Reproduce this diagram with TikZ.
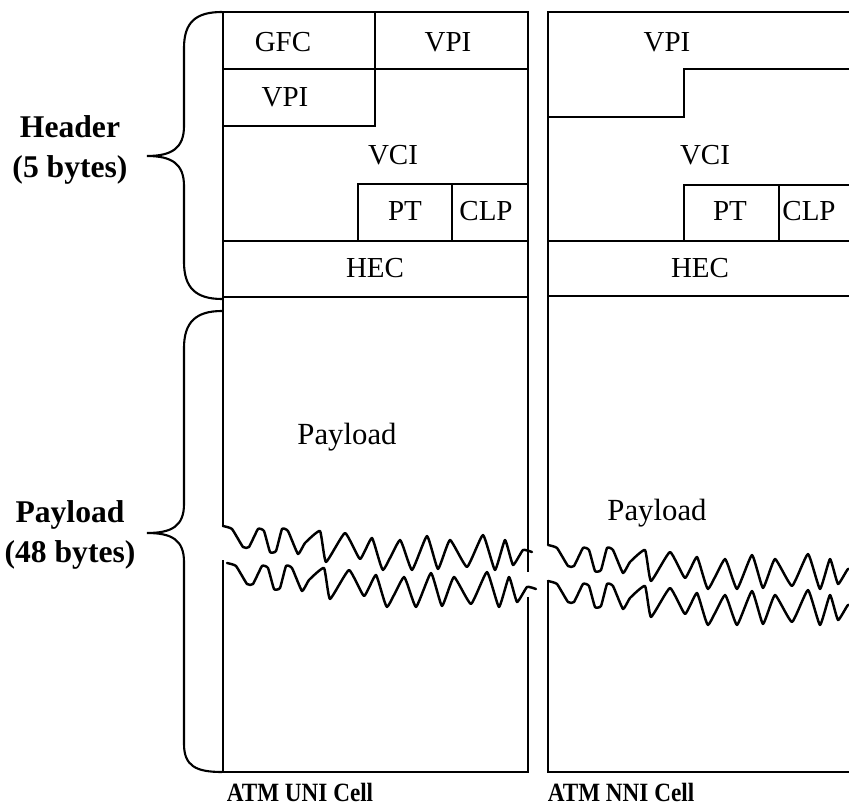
\documentclass[tikz,border=0pt]{standalone}
\usepackage{fontspec}
\setmainfont{Liberation Serif}
\usepackage{tikz}
\usetikzlibrary{positioning, calc}

\begin{document}
\begin{tikzpicture}[
    x=0.02cm, y=-0.02cm,
    field/.style={inner sep=0pt, font=\fontsize{16.5}{19}\selectfont},
    side/.style={inner sep=0pt, align=center, font=\fontsize{18}{22.5}\selectfont\bfseries},
    title/.style={inner sep=0pt, font=\fontsize{15}{17}\selectfont\bfseries},
    cell/.style={line width=1.2pt, line cap=butt},
    wave/.style={line width=1.4pt, line join=round, line cap=round}
]
\useasboundingbox (0,0) rectangle (849,810);
\clip (0,0) rectangle (849,810);

% UNI cell
\draw[cell] (223,527) -- (223,12) -- (528,12) -- (528,572);
\draw[cell] (528,597) -- (528,772) -- (223,772) -- (223,560);
\draw[cell] (223,69) -- (528,69);
\draw[cell] (375,12) -- (375,126) -- (223,126);
\draw[cell] (358,241) -- (358,184) -- (528,184);
\draw[cell] (452,184) -- (452,241);
\draw[cell] (223,241) -- (528,241);
\draw[cell] (223,297) -- (528,297);

\node[field] (gfc) at (283,42) {GFC};
\node[field] (uvpia) at (448,42) {VPI};
\node[field] (uvpib) at (285,97) {VPI};
\node[field] (uvci) at (393,155) {VCI};
\node[field] (upt) at (405,211) {PT};
\node[field] (uclp) at (486,211) {CLP};
\node[field] (uhec) at (375,268) {HEC};
\node[field, font=\fontsize{17.5}{20}\selectfont] (upay) at (347,437) {Payload};

% NNI cell
\draw[cell] (548,545) -- (548,12) -- (860,12);
\draw[cell] (548,580) -- (548,772) -- (860,772);
\draw[cell] (548,117) -- (684,117) -- (684,69) -- (860,69);
\draw[cell] (684,241) -- (684,185) -- (860,185);
\draw[cell] (779,185) -- (779,241);
\draw[cell] (548,241) -- (860,241);
\draw[cell] (548,296) -- (860,296);

\node[field] (nvpi) at (667,42) {VPI};
\node[field] (nvci) at (705,155) {VCI};
\node[field] (npt) at (730,211) {PT};
\node[field] (nclp) at (809,211) {CLP};
\node[field] (nhec) at (700,268) {HEC};
\node[field, font=\fontsize{17.5}{20}\selectfont] (npay) at (657,513) {Payload};

% torn payload
\foreach \dx/\dy in {0/0, 4/37, 325/19, 325/55}
  \draw[wave, shift={(\dx,\dy)}] plot[smooth, tension=0.25] coordinates {
    (223,526) (232,529) (243,547) (249,547) (258,529) (264,531) (270,552)
    (276,551) (282,529) (288,531) (298,554) (305,543) (320,531) (326,562)
    (345,533) (360,559) (372,538) (383,570) (400,540) (412,570) (427,536)
    (438,569) (450,540) (467,567) (483,535) (495,570) (505,540) (513,565)
    (523,550) (532,552)};

% braces
\draw[cell] (222,12) .. controls (196,12) and (184,22) .. (184,48) -- (184,126)
  .. controls (184,148) and (172,156) .. (147,156)
  .. controls (172,156) and (184,164) .. (184,186) -- (184,262)
  .. controls (184,288) and (196,299) .. (222,299);
\draw[cell] (222,311) .. controls (196,311) and (184,322) .. (184,348) -- (184,504)
  .. controls (184,526) and (172,533) .. (147,533)
  .. controls (172,533) and (184,540) .. (184,562) -- (184,744)
  .. controls (184,766) and (196,772) .. (222,772);

\node[side] (hdr) at (70,150) {Header\\(5 bytes)};
\node[side] (pay) at (70,535) {Payload\\(48 bytes)};

\node[title] (uni) at (300,792) {\scalebox{0.88}[1]{ATM UNI Cell}};
\node[title] (nni) at (621,792) {\scalebox{0.88}[1]{ATM NNI Cell}};

\end{tikzpicture}
\end{document}
